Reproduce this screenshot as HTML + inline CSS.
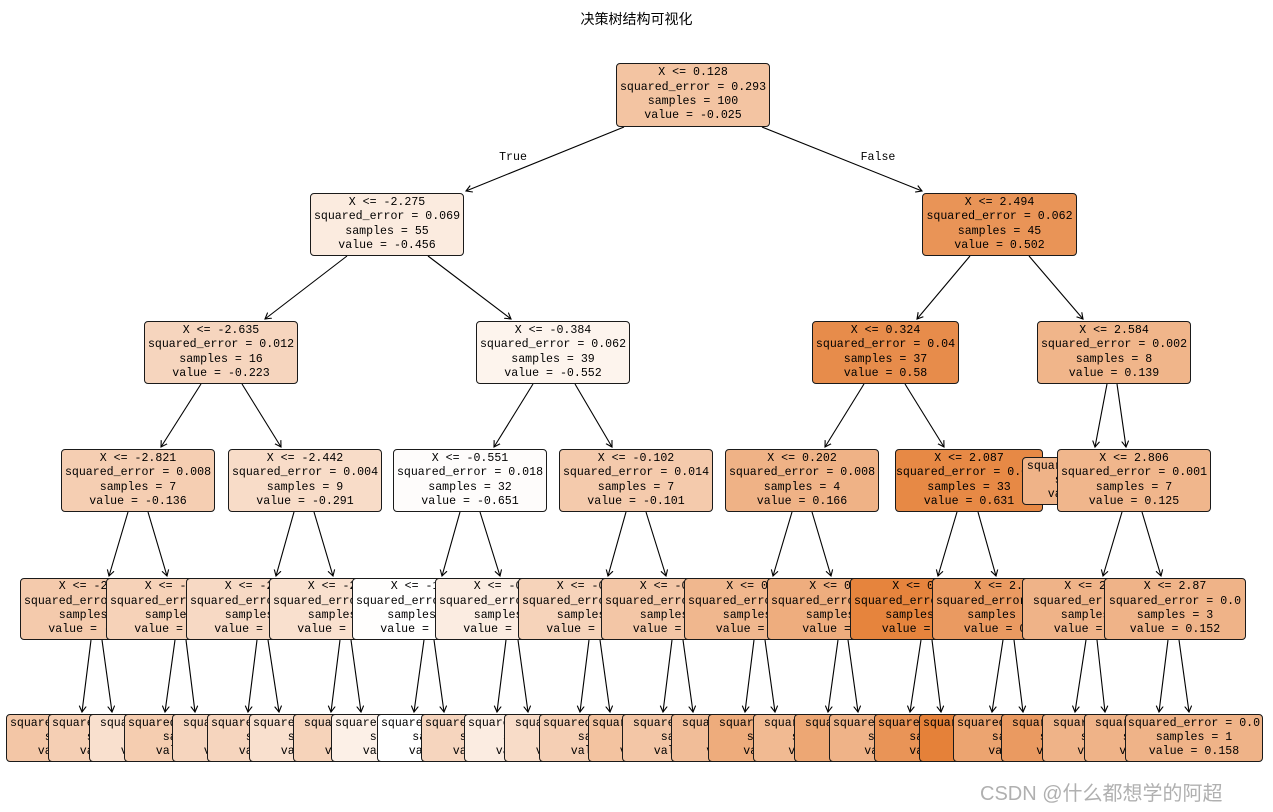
<!DOCTYPE html>
<html><head><meta charset="utf-8"><style>
body{margin:0;background:#fff;}
#c{position:relative;width:1273px;height:812px;overflow:hidden;background:#fff;}
.b{position:absolute;box-sizing:border-box;border:1px solid #1a1a1a;border-radius:4px;display:flex;flex-direction:column;justify-content:center;align-items:center;font-family:"Liberation Mono",monospace;font-size:11.6px;line-height:14.3px;color:#000;white-space:pre;overflow:hidden;}
.n{top:578px;height:62px;width:154px;}
.l{top:714px;height:48px;width:154px;}
svg{position:absolute;left:0;top:0;}
.t{position:absolute;font-family:"Liberation Sans","Noto Sans CJK SC",sans-serif;}
</style></head><body><div id="c">
<div class="t" style="left:0;width:1273px;text-align:center;top:9px;font-size:14px;">决策树结构可视化</div>
<svg width="1273" height="812">
<defs><marker id="a" markerWidth="8" markerHeight="8" refX="6" refY="4" orient="auto" markerUnits="userSpaceOnUse"><path d="M0,0.5 L6,4 L0,7.5" fill="none" stroke="#000" stroke-width="1.1"/></marker></defs>
<g stroke="#000" stroke-width="1.1" marker-end="url(#a)">
<line x1="624" y1="127" x2="466" y2="191"/><line x1="762" y1="127" x2="922" y2="191"/>
<line x1="347" y1="256" x2="265" y2="319"/><line x1="428" y1="256" x2="511" y2="319"/><line x1="970" y1="256" x2="917" y2="319"/><line x1="1029" y1="256" x2="1083" y2="319"/>
<line x1="201" y1="384" x2="161" y2="447"/><line x1="242" y1="384" x2="281" y2="447"/><line x1="533" y1="384" x2="494" y2="447"/><line x1="575" y1="384" x2="612" y2="447"/><line x1="864" y1="384" x2="825" y2="447"/><line x1="905" y1="384" x2="944" y2="447"/><line x1="1107" y1="384" x2="1095" y2="447"/><line x1="1117" y1="384" x2="1126" y2="447"/>
<line x1="128" y1="512" x2="109" y2="576"/><line x1="148" y1="512" x2="167" y2="576"/><line x1="294" y1="512" x2="276" y2="576"/><line x1="314" y1="512" x2="333" y2="576"/><line x1="460" y1="512" x2="442" y2="576"/><line x1="480" y1="512" x2="500" y2="576"/><line x1="626" y1="512" x2="608" y2="576"/><line x1="646" y1="512" x2="666" y2="576"/><line x1="792" y1="512" x2="773" y2="576"/><line x1="812" y1="512" x2="831" y2="576"/><line x1="957" y1="512" x2="938" y2="576"/><line x1="978" y1="512" x2="996" y2="576"/><line x1="1122" y1="512" x2="1103" y2="576"/><line x1="1142" y1="512" x2="1161" y2="576"/>
<line x1="91" y1="640" x2="82" y2="712"/><line x1="102" y1="640" x2="112" y2="712"/><line x1="175" y1="640" x2="165" y2="712"/><line x1="186" y1="640" x2="195" y2="712"/><line x1="257" y1="640" x2="248" y2="712"/><line x1="268" y1="640" x2="279" y2="712"/><line x1="340" y1="640" x2="331" y2="712"/><line x1="351" y1="640" x2="361" y2="712"/><line x1="424" y1="640" x2="414" y2="712"/><line x1="434" y1="640" x2="444" y2="712"/><line x1="506" y1="640" x2="497" y2="712"/><line x1="518" y1="640" x2="528" y2="712"/><line x1="589" y1="640" x2="580" y2="712"/><line x1="600" y1="640" x2="610" y2="712"/><line x1="672" y1="640" x2="663" y2="712"/><line x1="683" y1="640" x2="693" y2="712"/><line x1="754" y1="640" x2="745" y2="712"/><line x1="765" y1="640" x2="775" y2="712"/><line x1="838" y1="640" x2="828" y2="712"/><line x1="848" y1="640" x2="858" y2="712"/><line x1="921" y1="640" x2="910" y2="712"/><line x1="932" y1="640" x2="941" y2="712"/><line x1="1003" y1="640" x2="992" y2="712"/><line x1="1014" y1="640" x2="1023" y2="712"/><line x1="1086" y1="640" x2="1075" y2="712"/><line x1="1097" y1="640" x2="1105" y2="712"/><line x1="1168" y1="640" x2="1159" y2="712"/><line x1="1179" y1="640" x2="1189" y2="712"/>
</g>
<text x="513" y="160" font-family="Liberation Mono, monospace" font-size="11.6" text-anchor="middle">True</text>
<text x="878" y="160" font-family="Liberation Mono, monospace" font-size="11.6" text-anchor="middle">False</text>
</svg>

<div class="b" style="left:616px;top:63px;width:154px;height:64px;background:rgb(243,196,162)"><div>X &lt;= 0.128</div><div>squared_error = 0.293</div><div>samples = 100</div><div>value = -0.025</div></div>

<div class="b" style="left:310px;top:193px;width:154px;height:63px;background:rgb(251,235,223)"><div>X &lt;= -2.275</div><div>squared_error = 0.069</div><div>samples = 55</div><div>value = -0.456</div></div>
<div class="b" style="left:922px;top:193px;width:155px;height:63px;background:rgb(233,148,87)"><div>X &lt;= 2.494</div><div>squared_error = 0.062</div><div>samples = 45</div><div>value = 0.502</div></div>

<div class="b" style="left:144px;top:321px;width:154px;height:63px;background:rgb(246,213,190)"><div>X &lt;= -2.635</div><div>squared_error = 0.012</div><div>samples = 16</div><div>value = -0.223</div></div>
<div class="b" style="left:476px;top:321px;width:154px;height:63px;background:rgb(253,244,237)"><div>X &lt;= -0.384</div><div>squared_error = 0.062</div><div>samples = 39</div><div>value = -0.552</div></div>
<div class="b" style="left:812px;top:321px;width:147px;height:63px;background:rgb(231,140,75)"><div>X &lt;= 0.324</div><div>squared_error = 0.04</div><div>samples = 37</div><div>value = 0.58</div></div>
<div class="b" style="left:1037px;top:321px;width:154px;height:63px;background:rgb(240,181,138)"><div>X &lt;= 2.584</div><div>squared_error = 0.002</div><div>samples = 8</div><div>value = 0.139</div></div>

<div class="b" style="left:61px;top:449px;width:154px;height:63px;background:rgb(245,206,178)"><div>X &lt;= -2.821</div><div>squared_error = 0.008</div><div>samples = 7</div><div>value = -0.136</div></div>
<div class="b" style="left:228px;top:449px;width:154px;height:63px;background:rgb(248,220,200)"><div>X &lt;= -2.442</div><div>squared_error = 0.004</div><div>samples = 9</div><div>value = -0.291</div></div>
<div class="b" style="left:393px;top:449px;width:154px;height:63px;background:rgb(254,252,251)"><div>X &lt;= -0.551</div><div>squared_error = 0.018</div><div>samples = 32</div><div>value = -0.651</div></div>
<div class="b" style="left:559px;top:449px;width:154px;height:63px;background:rgb(244,202,172)"><div>X &lt;= -0.102</div><div>squared_error = 0.014</div><div>samples = 7</div><div>value = -0.101</div></div>
<div class="b" style="left:725px;top:449px;width:154px;height:63px;background:rgb(239,178,134)"><div>X &lt;= 0.202</div><div>squared_error = 0.008</div><div>samples = 4</div><div>value = 0.166</div></div>
<div class="b" style="left:895px;top:449px;width:148px;height:63px;background:rgb(231,137,69)"><div>X &lt;= 2.087</div><div>squared_error = 0.013</div><div>samples = 33</div><div>value = 0.631</div></div>
<div class="b" style="left:1022px;top:457px;width:142px;height:48px;background:rgb(239,179,136)"><div>squared_error = 0.0</div><div>samples = 1</div><div>value = 0.148</div></div>
<div class="b" style="left:1057px;top:449px;width:154px;height:63px;background:rgb(240,182,140)"><div>X &lt;= 2.806</div><div>squared_error = 0.001</div><div>samples = 7</div><div>value = 0.125</div></div>

<div class="b n" style="left:20px;background:rgb(244,202,172)"><div>X &lt;= -2.972</div><div>squared_error = 0.005</div><div>samples = 4</div><div>value = -0.101</div></div>
<div class="b n" style="left:106px;background:rgb(246,210,184)"><div>X &lt;= -2.711</div><div>squared_error = 0.002</div><div>samples = 3</div><div>value = -0.183</div></div>
<div class="b n" style="left:186px;background:rgb(247,217,196)"><div>X &lt;= -2.566</div><div>squared_error = 0.002</div><div>samples = 4</div><div>value = -0.255</div></div>
<div class="b n" style="left:269px;background:rgb(249,224,206)"><div>X &lt;= -2.351</div><div>squared_error = 0.002</div><div>samples = 5</div><div>value = -0.319</div></div>
<div class="b n" style="left:352px;background:rgb(255,254,253)"><div>X &lt;= -1.565</div><div>squared_error = 0.012</div><div>samples = 24</div><div>value = -0.671</div></div>
<div class="b n" style="left:435px;background:rgb(251,236,225)"><div>X &lt;= -0.461</div><div>squared_error = 0.009</div><div>samples = 8</div><div>value = -0.489</div></div>
<div class="b n" style="left:518px;background:rgb(246,211,186)"><div>X &lt;= -0.239</div><div>squared_error = 0.004</div><div>samples = 3</div><div>value = -0.196</div></div>
<div class="b n" style="left:601px;background:rgb(243,198,166)"><div>X &lt;= -0.023</div><div>squared_error = 0.004</div><div>samples = 4</div><div>value = -0.03</div></div>
<div class="b n" style="left:684px;background:rgb(240,183,142)"><div>X &lt;= 0.168</div><div>squared_error = 0.002</div><div>samples = 2</div><div>value = 0.112</div></div>
<div class="b n" style="left:767px;background:rgb(238,173,126)"><div>X &lt;= 0.264</div><div>squared_error = 0.001</div><div>samples = 2</div><div>value = 0.22</div></div>
<div class="b n" style="left:850px;background:rgb(230,132,61)"><div>X &lt;= 0.925</div><div>squared_error = 0.009</div><div>samples = 22</div><div>value = 0.676</div></div>
<div class="b n" style="left:932px;background:rgb(234,154,97)"><div>X &lt;= 2.307</div><div>squared_error = 0.008</div><div>samples = 11</div><div>value = 0.441</div></div>
<div class="b n" style="left:1022px;background:rgb(239,179,136)"><div>X &lt;= 2.681</div><div>squared_error = 0.0</div><div>samples = 4</div><div>value = 0.108</div></div>
<div class="b n" style="left:1104px;width:142px;background:rgb(239,179,136)"><div>X &lt;= 2.87</div><div>squared_error = 0.0</div><div>samples = 3</div><div>value = 0.152</div></div>

<div class="b l" style="left:6px;background:rgb(243,198,166)"><div>squared_error = 0.002</div><div>samples = 2</div><div>value = -0.06</div></div>
<div class="b l" style="left:48px;background:rgb(245,207,180)"><div>squared_error = 0.001</div><div>samples = 2</div><div>value = -0.14</div></div>
<div class="b l" style="left:89px;background:rgb(249,224,206)"><div>squared_error = 0.0</div><div>samples = 1</div><div>value = -0.25</div></div>
<div class="b l" style="left:124px;background:rgb(245,205,176)"><div>squared_error = 0.001</div><div>samples = 2</div><div>value = -0.15</div></div>
<div class="b l" style="left:172px;background:rgb(246,213,190)"><div>squared_error = 0.0</div><div>samples = 1</div><div>value = -0.22</div></div>
<div class="b l" style="left:207px;background:rgb(246,213,190)"><div>squared_error = 0.001</div><div>samples = 3</div><div>value = -0.22</div></div>
<div class="b l" style="left:249px;background:rgb(249,224,206)"><div>squared_error = 0.001</div><div>samples = 2</div><div>value = -0.28</div></div>
<div class="b l" style="left:293px;background:rgb(246,211,186)"><div>squared_error = 0.0</div><div>samples = 3</div><div>value = -0.20</div></div>
<div class="b l" style="left:331px;background:rgb(252,240,231)"><div>squared_error = 0.008</div><div>samples = 8</div><div>value = -0.51</div></div>
<div class="b l" style="left:377px;background:rgb(255,255,255)"><div>squared_error = 0.009</div><div>samples = 16</div><div>value = -0.70</div></div>
<div class="b l" style="left:421px;background:rgb(246,213,190)"><div>squared_error = 0.001</div><div>samples = 2</div><div>value = -0.22</div></div>
<div class="b l" style="left:464px;background:rgb(251,236,225)"><div>squared_error = 0.004</div><div>samples = 6</div><div>value = -0.48</div></div>
<div class="b l" style="left:504px;background:rgb(248,220,200)"><div>squared_error = 0.0</div><div>samples = 1</div><div>value = -0.29</div></div>
<div class="b l" style="left:539px;background:rgb(245,207,180)"><div>squared_error = 0.001</div><div>samples = 2</div><div>value = -0.15</div></div>
<div class="b l" style="left:588px;background:rgb(243,195,160)"><div>squared_error = 0.001</div><div>samples = 2</div><div>value = -0.05</div></div>
<div class="b l" style="left:622px;background:rgb(243,198,166)"><div>squared_error = 0.0</div><div>samples = 2</div><div>value = -0.01</div></div>
<div class="b l" style="left:671px;background:rgb(241,189,152)"><div>squared_error = 0.0</div><div>samples = 1</div><div>value = 0.07</div></div>
<div class="b l" style="left:708px;background:rgb(238,172,124)"><div>squared_error = 0.0</div><div>samples = 1</div><div>value = 0.15</div></div>
<div class="b l" style="left:753px;background:rgb(241,186,146)"><div>squared_error = 0.0</div><div>samples = 1</div><div>value = 0.20</div></div>
<div class="b l" style="left:794px;background:rgb(237,167,116)"><div>squared_error = 0.0</div><div>samples = 1</div><div>value = 0.24</div></div>
<div class="b l" style="left:829px;background:rgb(239,179,136)"><div>squared_error = 0.004</div><div>samples = 3</div><div>value = 0.45</div></div>
<div class="b l" style="left:874px;background:rgb(233,148,87)"><div>squared_error = 0.006</div><div>samples = 19</div><div>value = 0.71</div></div>
<div class="b l" style="left:919px;background:rgb(229,129,57)"><div>squared_error = 0.005</div><div>samples = 6</div><div>value = 0.53</div></div>
<div class="b l" style="left:953px;background:rgb(236,164,112)"><div>squared_error = 0.004</div><div>samples = 5</div><div>value = 0.34</div></div>
<div class="b l" style="left:1001px;background:rgb(234,154,97)"><div>squared_error = 0.0</div><div>samples = 2</div><div>value = 0.11</div></div>
<div class="b l" style="left:1042px;background:rgb(239,179,136)"><div>squared_error = 0.0</div><div>samples = 2</div><div>value = 0.10</div></div>
<div class="b l" style="left:1084px;background:rgb(239,179,136)"><div>squared_error = 0.0</div><div>samples = 2</div><div>value = 0.15</div></div>
<div class="b l" style="left:1125px;width:138px;background:rgb(239,179,136)"><div>squared_error = 0.0</div><div>samples = 1</div><div>value = 0.158</div></div>

<div class="t" style="left:980px;top:777px;font-size:20px;color:rgba(150,150,150,0.75);white-space:nowrap;">CSDN @什么都想学的阿超</div>
</div></body></html>
